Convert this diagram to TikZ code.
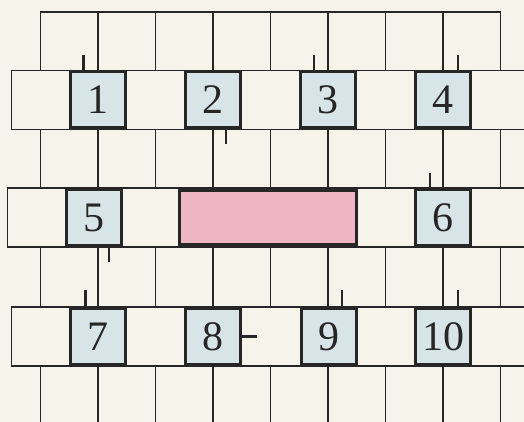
\documentclass[tikz,border=0pt]{standalone}
\usepackage{fontspec}
\setmainfont{Liberation Serif}
\usetikzlibrary{calc}
\definecolor{paper}{HTML}{F6F3EA}
\definecolor{ink}{HTML}{262626}
\definecolor{boxblue}{HTML}{D8E5E8}
\definecolor{pinkfill}{HTML}{EEB6C2}
\tikzset{
  gridline/.style={draw=ink, line width=1.4pt},
  numbox/.style={draw=ink, fill=boxblue, line width=3pt, minimum width=55pt, minimum height=56pt, inner sep=0pt,
     font=\fontsize{42}{42}\selectfont, text=ink},
  pinkbox/.style={draw=ink, fill=pinkfill, line width=3pt, minimum width=177pt, minimum height=54pt, inner sep=0pt},
  tick/.style={draw=ink, line width=2.4pt}
}
\begin{document}
\begin{tikzpicture}[x=1pt,y=-1pt]
\fill[paper] (0,0) rectangle (524,422);
\useasboundingbox (0,0) rectangle (524,422);
% top section
\draw[gridline] (40.5,70.5) -- (40.5,12) -- (500.5,12) -- (500.5,70.5);
\foreach \x in {98,155.5,213,270.5,328,385.5,443} \draw[gridline] (\x,12) -- (\x,70.5);
% middle sections and bottom
\foreach \x in {40.5,98,155.5,213,270.5,328,385.5,443,500.5} {
  \draw[gridline] (\x,129.5) -- (\x,188);
  \draw[gridline] (\x,247) -- (\x,307);
  \draw[gridline] (\x,366) -- (\x,430);
}
% bands
\draw[gridline] (560,70.5) -- (11.5,70.5) -- (11.5,129.5) -- (560,129.5);
\draw[gridline] (560,188) -- (7.5,188) -- (7.5,247) -- (560,247);
\draw[gridline] (560,307) -- (11.5,307) -- (11.5,366) -- (560,366);
% boxes row 1
\node[numbox] (b1) at (98.3,100) {1};
\node[numbox] (b2) at (213,100) {2};
\node[numbox] (b3) at (328,100) {3};
\node[numbox] (b4) at (443.2,100) {4};
% row 2
\node[numbox] (b5) at (93.8,217.5) {5};
\node[pinkbox] (pk) at (267.5,217.5) {};
\node[numbox] (b6) at (443.2,217.5) {6};
% row 3
\node[numbox] (b7) at (98.3,336.5) {7};
\node[numbox] (b8) at (213,336.5) {8};
\node[numbox] (b9) at (328.5,336.5) {9};
\node[numbox] (b10) at (443.2,336.5) {10};
% ticks
\draw[tick] ($(b1.north west)+(14,0)$) -- ++(0,-15);
\draw[tick] ($(b2.south west)+(42,0)$) -- ++(0,15);
\draw[tick] ($(b3.north west)+(15,0)$) -- ++(0,-15);
\draw[tick] ($(b4.north west)+(44,0)$) -- ++(0,-15);
\draw[tick] ($(b5.south west)+(44,0)$) -- ++(0,15);
\draw[tick] ($(b6.north west)+(16,0)$) -- ++(0,-15);
\draw[tick] ($(b7.north west)+(16,0)$) -- ++(0,-17);
\draw[tick] (b8.east) -- ++(15,0);
\draw[tick] ($(b9.north west)+(42.5,0)$) -- ++(0,-17);
\draw[tick] ($(b10.north west)+(44,0)$) -- ++(0,-17);
\end{tikzpicture}
\end{document}
